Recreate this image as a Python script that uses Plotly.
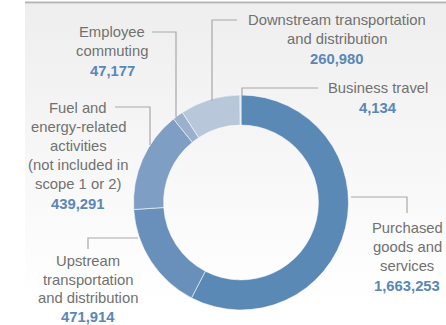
import plotly.graph_objects as go

# ---- data ----
categories = ["Purchased goods and services", "Upstream transportation and distribution",
              "Fuel and energy-related activities", "Employee commuting",
              "Downstream transportation and distribution", "Business travel"]
values = [1663253, 471914, 439291, 47177, 260980, 4134]
label_lines = [
    ["Purchased", "goods and", "services"],
    ["Upstream", "transportation", "and distribution"],
    ["Fuel and", "energy-related", "activities", "(not included in", "scope 1 or 2)"],
    ["Employee", "commuting"],
    ["Downstream transportation", "and distribution"],
    ["Business travel"],
]
slice_colors = ["#5b89b6", "#6890bb", "#7f9ec4", "#9ab0cc", "#b8c8da", "#c9d6e4"]

# ---- layout helpers (pixel coordinates) ----
W, H = 446, 325
cx, cy, R = 241, 202.5, 107.5
LINE_H = 19
# label block: (center x, first-line y)
label_pos = [(407, 228), (88, 261), (78, 108), (112, 32), (337, 20), (378, 88)]
# leader polylines
leaders = [
    [(351, 197), (407, 197), (407, 213)],
    [(138, 238), (88, 238), (88, 249)],
    [(115, 107), (150, 107), (150, 145)],
    [(152, 32), (176, 32), (176, 117)],
    [(237, 20), (212, 20), (212, 101)],
    [(318, 88), (242, 88), (242, 96)],
]

fig = go.Figure()

# background panel with vertical gradient
fig.add_trace(go.Scatter(
    x=[25, W, W, 25, 25], y=[4, 4, H, H, 4], mode="lines", fill="toself",
    line=dict(width=0),
    fillgradient=dict(type="vertical",
                      colorscale=[[0, "#ffffff"], [0.08, "#ffffff"], [1, "#eeeeee"]]),
    hoverinfo="skip", showlegend=False))

fig.add_trace(go.Pie(
    labels=categories, values=values, sort=False, direction="clockwise", rotation=0,
    hole=0.72, marker=dict(colors=slice_colors, line=dict(color="rgba(255,255,255,0.7)", width=0.8)),
    textinfo="none", hoverinfo="label+value", showlegend=False,
    domain=dict(x=[(cx - R) / W, (cx + R) / W], y=[(H - cy - R) / H, (H - cy + R) / H]),
))

shapes = [dict(type="line", xref="x", yref="y", x0=25, x1=W, y0=2.5, y1=2.5,
               line=dict(color="#b5b5b5", width=2))]
for pts in leaders:
    path = "M " + " L ".join(f"{x},{y}" for x, y in pts)
    shapes.append(dict(type="path", xref="x", yref="y", path=path,
                       line=dict(color="#a8a8a8", width=1.2)))

annotations = []
FONT = "Liberation Sans, Arial, sans-serif"
for k, (lines, val, (lx, ly)) in enumerate(zip(label_lines, values, label_pos)):
    lh = 18.5 if k == 1 else LINE_H
    for i, t in enumerate(lines):
        annotations.append(dict(x=lx, y=ly + i * lh, xref="x", yref="y", text=t,
                                showarrow=False, xanchor="center", yanchor="middle",
                                font=dict(family=FONT, size=14.8, color="#717171")))
    annotations.append(dict(x=lx, y=ly + len(lines) * lh + 0.5, xref="x", yref="y",
                            text=f"<b>{val:,}</b>", showarrow=False,
                            xanchor="center", yanchor="middle",
                            font=dict(family=FONT, size=14.8, color="#5a87b8")))

fig.update_layout(
    width=W, height=H, margin=dict(l=0, r=0, t=0, b=0),
    paper_bgcolor="white", plot_bgcolor="rgba(0,0,0,0)",
    xaxis=dict(range=[0, W], visible=False, fixedrange=True),
    yaxis=dict(range=[H, 0], visible=False, fixedrange=True),
    shapes=shapes, annotations=annotations, showlegend=False,
)

fig.write_html("out.html", config={"displayModeBar": False},
               post_script="document.body.style.margin='0';document.body.style.overflow='hidden';")
